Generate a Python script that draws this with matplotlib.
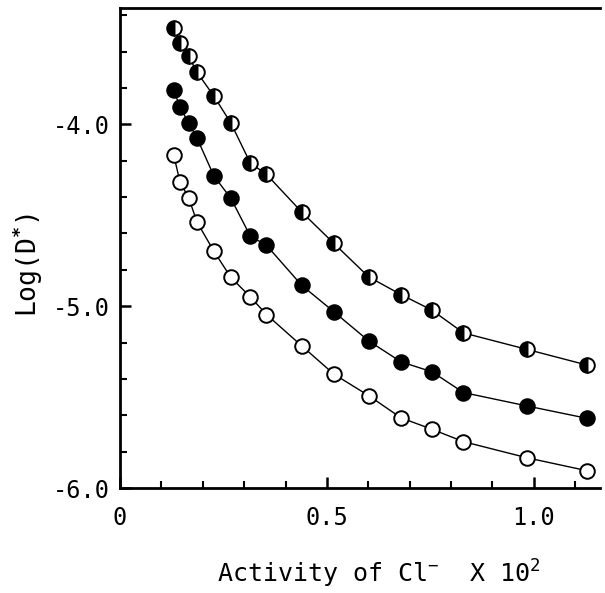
import matplotlib
matplotlib.use("Agg")
import matplotlib.pyplot as plt
from matplotlib.ticker import MultipleLocator, FixedLocator, FixedFormatter

plt.rcParams['font.family'] = ['DejaVu Sans Mono', 'DejaVu Sans']
plt.rcParams['mathtext.fontset'] = 'custom'
plt.rcParams['mathtext.rm'] = 'DejaVu Sans Mono'
plt.rcParams['mathtext.it'] = 'DejaVu Sans Mono'
plt.rcParams['mathtext.bf'] = 'DejaVu Sans Mono:bold'
plt.rcParams['mathtext.default'] = 'rm'

# Activity of Cl- (x 10^2)
activity = [0.130, 0.145, 0.166, 0.186, 0.227, 0.268, 0.315, 0.354,
            0.439, 0.517, 0.601, 0.679, 0.754, 0.830, 0.984, 1.129]

# Log(D*) for each series
half_filled = [-3.469, -3.551, -3.626, -3.713, -3.845, -3.993, -4.213, -4.275,
               -4.482, -4.655, -4.839, -4.936, -5.022, -5.147, -5.238, -5.324]
filled = [-3.813, -3.905, -3.993, -4.075, -4.284, -4.407, -4.615, -4.665,
          -4.885, -5.031, -5.191, -5.306, -5.361, -5.475, -5.549, -5.617]
open_pts = [-4.170, -4.317, -4.404, -4.537, -4.698, -4.842, -4.949, -5.046,
            -5.218, -5.374, -5.492, -5.614, -5.677, -5.745, -5.834, -5.905]

x_ticks = [0, 0.5, 1.0]
x_tick_labels = ["0", "0.5", "1.0"]
y_ticks = [-6.0, -5.0, -4.0]
y_tick_labels = ["-6.0", "-5.0", "-4.0"]

fig = plt.figure(figsize=(6.05, 5.93), dpi=100)
ax = fig.add_axes([120/605, 1-488/593, 480/605, 480/593])

ms = 10.5
mew = 1.4
lw = 1.0
ax.plot(activity, half_filled, '-', color='black', lw=lw, marker='o', ms=ms,
        mew=mew, mec='black', fillstyle='left', mfc='black', mfcalt='white',
        clip_on=False, zorder=3)
ax.plot(activity, filled, '-', color='black', lw=lw, marker='o', ms=ms,
        mew=mew, mec='black', mfc='black', clip_on=False, zorder=3)
ax.plot(activity, open_pts, '-', color='black', lw=lw, marker='o', ms=ms,
        mew=mew, mec='black', mfc='white', clip_on=False, zorder=3)

ax.set_xlim(0, 1.16)
ax.set_ylim(-6.0, -3.36)

ax.xaxis.set_major_locator(FixedLocator(x_ticks))
ax.xaxis.set_major_formatter(FixedFormatter(x_tick_labels))
ax.xaxis.set_minor_locator(MultipleLocator(0.1))
ax.yaxis.set_major_locator(FixedLocator(y_ticks))
ax.yaxis.set_major_formatter(FixedFormatter(y_tick_labels))
ax.yaxis.set_minor_locator(MultipleLocator(0.2))

ax.tick_params(which='both', direction='in', top=False, right=False,
               labelsize=17, colors='black')
ax.tick_params(which='major', length=8, width=1.8)
ax.tick_params(which='minor', length=5, width=1.5)
ax.tick_params(axis='x', pad=13)
ax.tick_params(axis='y', pad=7)

for s in ['left', 'bottom', 'top']:
    ax.spines[s].set_linewidth(2.0)
ax.spines['right'].set_visible(False)

fig.text(217/605, 1-583/593, r"Activity of Cl$^{-}$  X 10$^{2}$", fontsize=18,
         ha='left', va='baseline')
fig.text(28/605, 1-265/593, r"Log(D$^{\mathbf{*}}$)", fontsize=19,
         rotation=90, ha='center', va='center')

fig.savefig("out.png", dpi=100)
